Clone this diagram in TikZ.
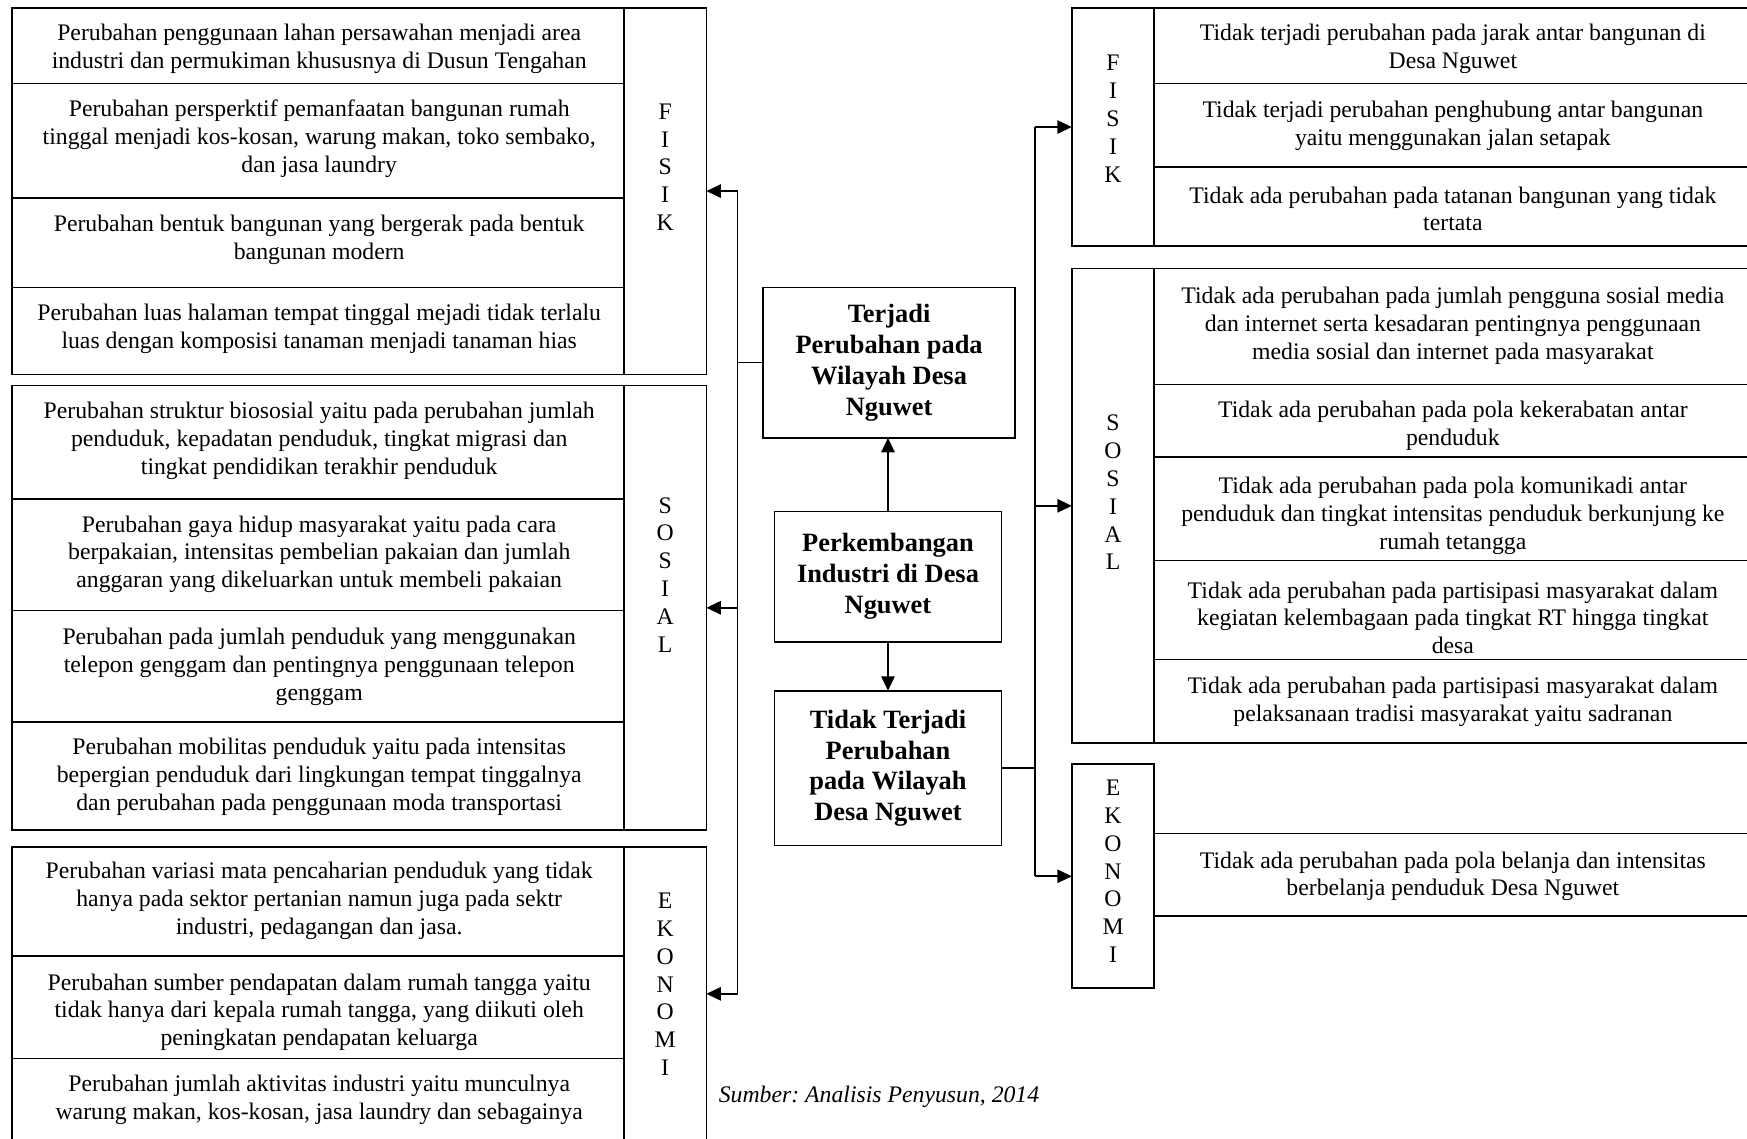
\documentclass[tikz,border=0pt]{standalone}
\usepackage{fontspec}
\setmainfont{Liberation Serif}
\usetikzlibrary{arrows.meta,calc}
\frenchspacing
\newcommand{\bodyfont}{\fontsize{21.3}{25}\selectfont}
\newcommand{\boldfont}{\fontsize{23.7}{27.7}\selectfont\bfseries}
\tikzset{
  lw/.style={line width=1.5pt},
  tcell/.style={draw, lw, inner sep=0pt, outer sep=0pt},
  ttext/.style={inner sep=0pt, align=center, font=\bodyfont},
  lcell/.style={draw, lw, inner sep=0pt, outer sep=0pt, minimum width=74pt},
  letters/.style={inner sep=0pt, align=center, font=\bodyfont},
  mainbox/.style={draw, lw, inner sep=0pt, outer sep=0pt, align=center, font=\boldfont},
  conn/.style={lw},
  arrowed/.style={lw, -{Triangle[length=13pt,width=12pt]}},
  lw549/.style={minimum width=549pt},
  lw534/.style={minimum width=534pt},
}
\begin{document}
\begin{tikzpicture}[x=1pt,y=-1pt]
\useasboundingbox (0,0) rectangle (1568,1022);
\fill[white] (0,0) rectangle (1568,1022);
\clip (0,0) rectangle (1568,1022);

% ---------- Left: FISIK ----------
\node[tcell, lw549, minimum height=68pt]  (lf1) at (285.5,41) {};
\node[tcell, lw549, minimum height=103pt] (lf2) at (285.5,126.5) {};
\node[tcell, lw549, minimum height=80pt]  (lf3) at (285.5,218) {};
\node[tcell, lw549, minimum height=78pt]  (lf4) at (285.5,297) {};
\node[ttext] (lf1t) at (286.5,44) {Perubahan penggunaan lahan persawahan menjadi area\\industri dan permukiman khususnya di Dusun Tengahan};
\node[ttext] (lf2t) at (286.5,124.5) {Perubahan persperktif pemanfaatan bangunan rumah\\tinggal menjadi kos-kosan, warung makan, toko sembako,\\dan jasa laundry};
\node[ttext] (lf3t) at (286.5,215) {Perubahan bentuk bangunan yang bergerak pada bentuk\\bangunan modern};
\node[ttext] (lf4t) at (286.5,295.5) {Perubahan luas halaman tempat tinggal mejadi tidak terlalu\\luas dengan komposisi tanaman menjadi tanaman hias};
\node[lcell, minimum height=329pt] (lfL) at (597,171.5) {};
\node[letters] (lfT) at (597,150) {F\\I\\S\\I\\K};

% ---------- Left: SOSIAL ----------
\node[tcell, lw549, minimum height=102pt] (ls1) at (285.5,397) {};
\node[tcell, lw549, minimum height=100pt] (ls2) at (285.5,498) {};
\node[tcell, lw549, minimum height=100pt] (ls3) at (285.5,598) {};
\node[tcell, lw549, minimum height=97pt]  (ls4) at (285.5,696.5) {};
\node[ttext] (ls1t) at (286.5,395.5) {Perubahan struktur biososial yaitu pada perubahan jumlah\\penduduk, kepadatan penduduk, tingkat migrasi dan\\tingkat pendidikan terakhir penduduk};
\node[ttext] (ls2t) at (286.5,497.5) {Perubahan gaya hidup masyarakat yaitu pada cara\\berpakaian, intensitas pembelian pakaian dan jumlah\\anggaran yang dikeluarkan untuk membeli pakaian};
\node[ttext] (ls3t) at (286.5,598.5) {Perubahan pada jumlah penduduk yang menggunakan\\telepon genggam dan pentingnya penggunaan telepon\\genggam};
\node[ttext] (ls4t) at (286.5,697.5) {Perubahan mobilitas penduduk yaitu pada intensitas\\bepergian penduduk dari lingkungan tempat tinggalnya\\dan perubahan pada penggunaan moda transportasi};
\node[lcell, minimum height=399pt] (lsL) at (597,545.5) {};
\node[letters] (lsT) at (597,516) {S\\O\\S\\I\\A\\L};

% ---------- Left: EKONOMI ----------
\node[tcell, lw549, minimum height=98pt] (le1) at (285.5,809) {};
\node[tcell, lw549, minimum height=92pt] (le2) at (285.5,904) {};
\node[tcell, lw549, minimum height=74pt] (le3) at (285.5,987) {};
\node[ttext] (le1t) at (286.5,808.5) {Perubahan variasi mata pencaharian penduduk yang tidak\\hanya pada sektor pertanian namun juga pada sektr\\industri, pedagangan dan jasa.};
\node[ttext] (le2t) at (286.5,908.5) {Perubahan sumber pendapatan dalam rumah tangga yaitu\\tidak hanya dari kepala rumah tangga, yang diikuti oleh\\peningkatan pendapatan keluarga};
\node[ttext] (le3t) at (286.5,987) {Perubahan jumlah aktivitas industri yaitu munculnya\\warung makan, kos-kosan, jasa laundry dan sebagainya};
\node[lcell, minimum height=264pt] (leL) at (597,892) {};
\node[letters] (leT) at (597,883.5) {E\\K\\O\\N\\O\\M\\I};

% ---------- Centre ----------
\node[mainbox, minimum width=226pt, minimum height=135pt] (terjadi) at (798,325.5) {Terjadi\\Perubahan pada\\Wilayah Desa\\Nguwet};
\node[mainbox, minimum width=204pt, minimum height=117pt] (perk) at (797,517.5) {Perkembangan\\Industri di Desa\\Nguwet};
\node[mainbox, minimum width=204pt, minimum height=139pt] (tidak) at (797,689.5) {Tidak Terjadi\\Perubahan\\pada Wilayah\\Desa Nguwet};

% ---------- Right: FISIK ----------
\node[lcell, minimum height=214pt] (rfL) at (999,114) {};
\node[letters] (rfT) at (999,106.5) {F\\I\\S\\I\\K};
\node[tcell, lw534, minimum height=68pt] (rf1) at (1303,41) {};
\node[tcell, lw534, minimum height=75pt] (rf2) at (1303,112.5) {};
\node[tcell, lw534, minimum height=71pt] (rf3) at (1303,185.5) {};
\node[ttext] (rf1t) at (1304,44) {Tidak terjadi perubahan pada jarak antar bangunan di\\Desa Nguwet};
\node[ttext] (rf2t) at (1304,113) {Tidak terjadi perubahan penghubung antar bangunan\\yaitu menggunakan jalan setapak};
\node[ttext] (rf3t) at (1304,187.5) {Tidak ada perubahan pada tatanan bangunan yang tidak\\tertata};

% ---------- Right: SOSIAL ----------
\node[lcell, minimum height=426pt] (rsL) at (999,454) {};
\node[letters] (rsT) at (999,442) {S\\O\\S\\I\\A\\L};
\node[tcell, lw534, minimum height=104pt] (rs1) at (1303,293) {};
\node[tcell, lw534, minimum height=65pt]  (rs2) at (1303,377.5) {};
\node[tcell, lw534, minimum height=93pt]  (rs3) at (1303,456.5) {};
\node[tcell, lw534, minimum height=89pt]  (rs4) at (1303,547.5) {};
\node[tcell, lw534, minimum height=75pt]  (rs5) at (1303,629.5) {};
\node[ttext] (rs1t) at (1304,292.5) {Tidak ada perubahan pada jumlah pengguna sosial media\\dan internet serta kesadaran pentingnya penggunaan\\media sosial dan internet pada masyarakat};
\node[ttext] (rs2t) at (1304,382) {Tidak ada perubahan pada pola kekerabatan antar\\penduduk};
\node[ttext] (rs3t) at (1304,463) {Tidak ada perubahan pada pola komunikadi antar\\penduduk dan tingkat intensitas penduduk berkunjung ke\\rumah tetangga};
\node[ttext] (rs4t) at (1304,554.5) {Tidak ada perubahan pada partisipasi masyarakat dalam\\kegiatan kelembagaan pada tingkat RT hingga tingkat\\desa};
\node[ttext] (rs5t) at (1304,630) {Tidak ada perubahan pada partisipasi masyarakat dalam\\pelaksanaan tradisi masyarakat yaitu sadranan};

% ---------- Right: EKONOMI ----------
\node[lcell, minimum height=201pt] (reL) at (999,786.5) {};
\node[letters] (reT) at (999,782) {E\\K\\O\\N\\O\\M\\I};
\node[tcell, lw534, minimum height=74pt] (re1) at (1303,785) {};
\node[ttext] (re1t) at (1304,786.5) {Tidak ada perubahan pada pola belanja dan intensitas\\berbelanja penduduk Desa Nguwet};

% ---------- Source ----------
\node[anchor=west, inner sep=0pt, font=\bodyfont\itshape] (src) at (645,984) {Sumber: Analisis Penyusun, 2014};

% ---------- Connectors ----------
\coordinate (lbus) at (662,0);
\coordinate (rbus) at (929,0);
\draw[arrowed] (perk.north) -- (perk.north |- terjadi.south);
\draw[arrowed] (perk.south) -- (perk.south |- tidak.north);

\draw[conn] (terjadi.west) -- (terjadi.west -| lbus);
\draw[conn] (lfL.east -| lbus) -- (leL.east -| lbus);
\draw[arrowed] (lfL.east -| lbus) -- (lfL.east);
\draw[arrowed] (lsL.east -| lbus) -- (lsL.east);
\draw[arrowed] (leL.east -| lbus) -- (leL.east);

\draw[conn] (tidak.east) -- (tidak.east -| rbus);
\draw[conn] (rfL.west -| rbus) -- (reL.west -| rbus);
\draw[arrowed] (rfL.west -| rbus) -- (rfL.west);
\draw[arrowed] (rsL.west -| rbus) -- (rsL.west);
\draw[arrowed] (reL.west -| rbus) -- (reL.west);
\end{tikzpicture}
\end{document}
